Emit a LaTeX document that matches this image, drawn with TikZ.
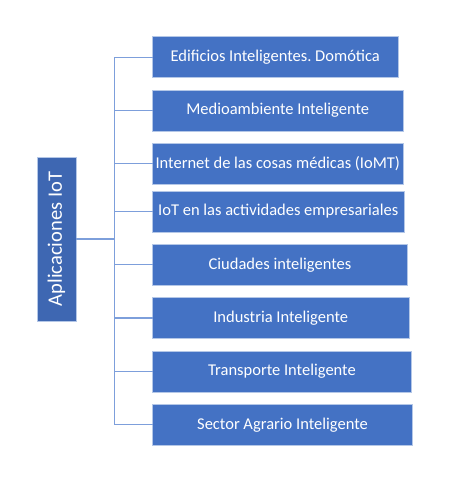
\documentclass[tikz,border=0pt]{standalone}
\usepackage{fontspec}
\setmainfont{Carlito}
\usepackage{xcolor}
\usepackage{tikz}
\usetikzlibrary{positioning}
\frenchspacing

\definecolor{boxblue}{HTML}{4472C4}
\definecolor{rootblue}{HTML}{3E67B2}
\definecolor{edgeblue}{HTML}{B4C7E7}
\definecolor{lineblue}{HTML}{7D9FDB}

\begin{document}
\begin{tikzpicture}[
    x=1pt, y=-1pt,
    node distance=12.3pt,
    box/.style={draw=edgeblue, line width=0.8pt, outer sep=0pt, fill=boxblue, rectangle, minimum height=41pt, text=white, font=\fontsize{16.5}{18}\selectfont, inner sep=1pt},
    rootbox/.style={draw=edgeblue, line width=0.8pt, outer sep=0pt, fill=rootblue, rectangle, minimum width=164pt, minimum height=39pt, text=white, font=\fontsize{20.5}{22}\selectfont, rotate=90},
    link/.style={draw=lineblue, line width=1.3pt}
]
    \useasboundingbox (0,0) rectangle (459,495);

    % Root (left)
    \node[rootbox] (root) at (56.5,239) {Aplicaciones IoT};

    % Branches (right column)
    \node[box, minimum width=245.5pt, anchor=north west] (b1) at (152.5,36.7) {Edificios Inteligentes. Domótica};
    \node[box, minimum width=250.5pt, below=of b1.south west, anchor=north west] (b2) {Medioambiente Inteligente};
    \node[box, minimum width=250.5pt, below=of b2.south west, anchor=north west] (b3) {Internet de las cosas médicas (IoMT)};
    \node[box, minimum width=251.5pt, below=6.7pt of b3.south west, anchor=north west] (b4) {IoT en las actividades empresariales};
    \node[box, minimum width=255pt, below=of b4.south west, anchor=north west] (b5) {Ciudades inteligentes};
    \node[box, minimum width=256.5pt, below=of b5.south west, anchor=north west] (b6) {Industria Inteligente};
    \node[box, minimum width=259pt, below=of b6.south west, anchor=north west] (b7) {Transporte Inteligente};
    \node[box, minimum width=260pt, below=of b7.south west, anchor=north west] (b8) {Sector Agrario Inteligente};

    % Connectors
    \draw[link] (root.south) -- ++(38.5pt,0) coordinate (hub);
    \draw[link] (hub |- b1.west) -- (hub |- b8.west);
    \foreach \b in {b1,b2,b3,b4,b5,b6,b7,b8}
        \draw[link] (hub |- \b.west) -- (\b.west);

\end{tikzpicture}
\end{document}
